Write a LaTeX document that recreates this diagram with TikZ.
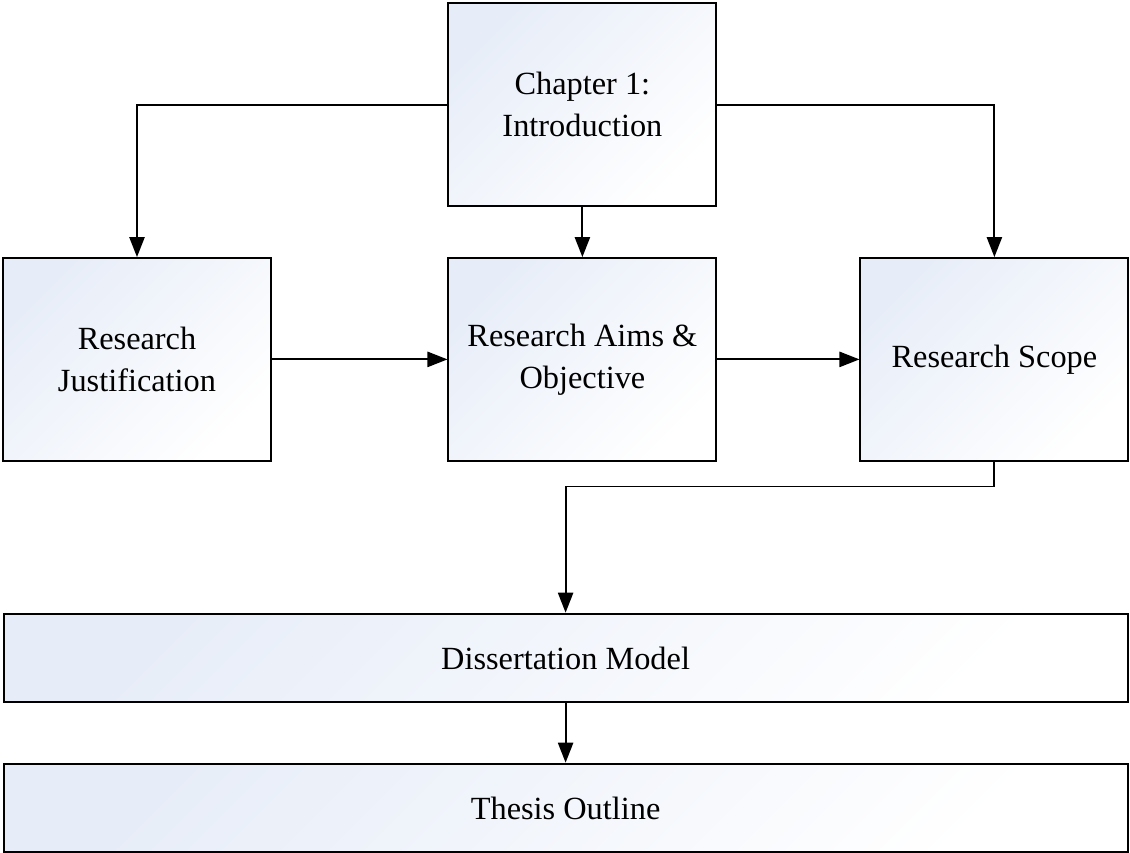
\documentclass[tikz,border=0pt]{standalone}
\usepackage{fontspec}
\setmainfont{Liberation Serif}
\usetikzlibrary{arrows.meta}
\definecolor{boxblue}{RGB}{231,237,248}

\begin{document}
\begin{tikzpicture}[
  chapbox/.style={draw, line width=1.3pt, top color=boxblue, bottom color=white,
                  shading angle=45, align=center, inner sep=2pt,
                  minimum width=6.7cm, minimum height=5.07cm, font=\fontsize{23}{30}\selectfont},
  widebox/.style={chapbox, minimum width=28.1cm, minimum height=2.22cm},
  link/.style={-{Triangle[length=5mm, width=3.8mm]}, line width=1.3pt}
]

\useasboundingbox (0,0) rectangle (28.25,21.325);

\def\xl{3.425} \def\xm{14.56} \def\xr{24.86}

\node[chapbox] (intro) at (\xm,18.71) {Chapter 1:\\Introduction};
\node[chapbox] (justif) at (\xl,12.34) {Research\\Justification};
\node[chapbox] (aims) at (\xm,12.34) {Research Aims \&\\Objective};
\node[chapbox] (scope) at (\xr,12.34) {Research Scope};
\node[widebox] (model) at (14.14,4.875) {Dissertation Model};
\node[widebox] (outline) at (14.14,1.125) {Thesis Outline};

\draw[link] (intro.west) -| (justif.north);
\draw[link] (intro.east) -| (scope.north);
\draw[link] (intro.south) -- (aims.north);
\draw[link] (justif.east) -- (aims.west);
\draw[link] (aims.east) -- (scope.west);
\draw[link] (scope.south) -- ++(0,-0.62) -| (model.north);
\draw[link] (model.south) -- (outline.north);

\end{tikzpicture}
\end{document}
